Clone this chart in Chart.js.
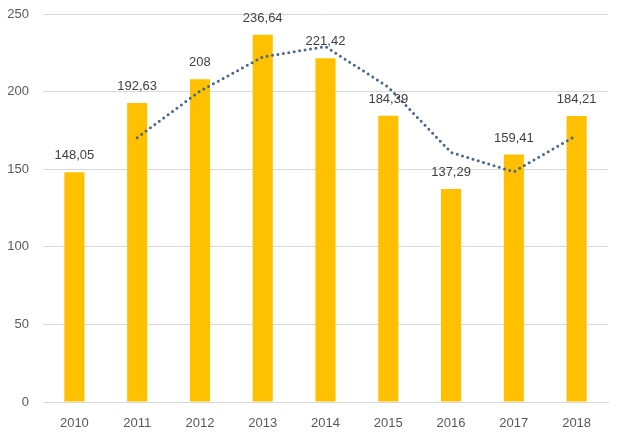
<!DOCTYPE html>
<html><head><meta charset="utf-8">
<script src="https://cdn.jsdelivr.net/npm/chart.js@4/dist/chart.umd.min.js"></script>
<style>html,body{margin:0;padding:0;background:#fff}#w{width:624px;height:437px}</style>
</head><body><div id="w"><canvas id="c" width="624" height="437"></canvas></div>
<script>
const categories = ['2010','2011','2012','2013','2014','2015','2016','2017','2018'];
const values = [148.05,192.63,208,236.64,221.42,184.39,137.29,159.41,184.21];
const trend = [null,170.34,200.32,222.32,229.03,202.91,160.84,148.35,171.81];
const yTicks = [0,50,100,150,200,250];

const labelPlugin = {
  id:'barLabels',
  afterDatasetsDraw(chart){
    const ctx = chart.ctx;
    const meta = chart.getDatasetMeta(1);
    ctx.save();
    ctx.font = '13px "Liberation Sans", Arial, sans-serif';
    ctx.fillStyle = '#404040';
    ctx.textAlign = 'center';
    ctx.textBaseline = 'bottom';
    meta.data.forEach((el,i)=>{
      ctx.fillText(String(values[i]).replace('.',','), el.x, el.y - 10);
    });
    ctx.restore();
  }
};

new Chart(document.getElementById('c'),{
  data:{
    labels:categories,
    datasets:[
      {type:'line',data:trend,borderColor:'#46698A',borderWidth:3,borderDash:[0,5.5],borderCapStyle:'round',pointRadius:0,fill:false,tension:0,order:0},
      {type:'bar',data:values,backgroundColor:'#FFC000',barPercentage:0.32,categoryPercentage:1,order:1}
    ]
  },
  options:{
    responsive:false,animation:false,
    layout:{padding:{top:14,right:16,left:0,bottom:0}},
    plugins:{legend:{display:false},tooltip:{enabled:false}},
    scales:{
      x:{grid:{display:false},border:{display:true,color:'#D9D9D9'},
         ticks:{color:'#595959',font:{size:13,family:'"Liberation Sans", Arial, sans-serif'},padding:6},
         afterFit(s){s.height=35;s.paddingLeft=0;s.paddingRight=0;}},
      y:{min:0,max:250,afterBuildTicks(s){s.ticks=yTicks.map(v=>({value:v}));},
         grid:{color:'#D9D9D9',drawTicks:false},border:{display:false},
         ticks:{color:'#595959',font:{size:13,family:'"Liberation Sans", Arial, sans-serif'},padding:14},
         afterFit(s){s.width=43;s.paddingTop=0;s.paddingBottom=0;}}
    }
  },
  plugins:[labelPlugin]
});
</script></body></html>
